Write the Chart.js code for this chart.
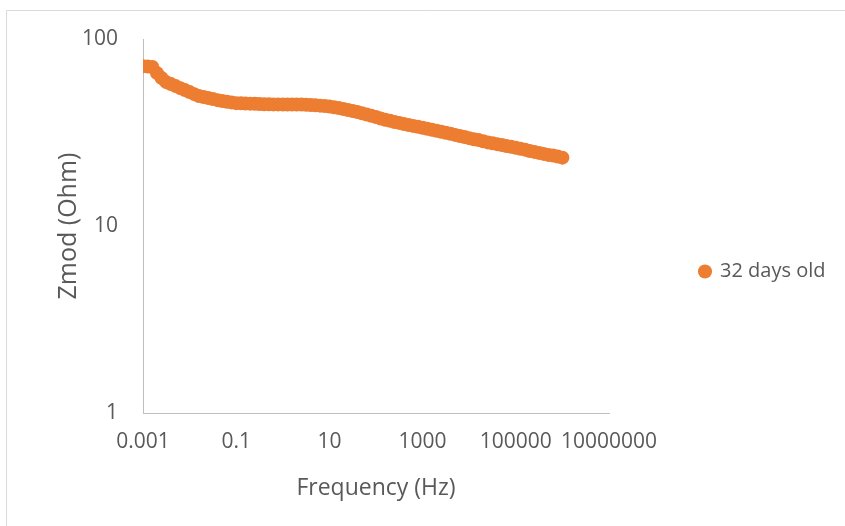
<!DOCTYPE html>
<html>
<head>
<meta charset="utf-8">
<script src="https://cdn.jsdelivr.net/npm/chart.js@4.4.0/dist/chart.umd.min.js"></script>
<style>
  html, body { margin: 0; padding: 0; background: #fff; }
  canvas { display: block; }
</style>
</head>
<body>
<canvas id="zmod-canvas" width="845" height="526"></canvas>
<script>
// frequency sweep, Hz (high to low, 10 points per decade)
let frequency = [
  1000000, 794300, 631000, 501200, 398100, 316200, 251200, 199500, 158500, 125900,
  100000, 79430, 63100, 50120, 39810, 31620, 25120, 19950, 15850, 12590,
  10000, 7943, 6310, 5012, 3981, 3162, 2512, 1995, 1585, 1259,
  1000, 794.3, 631, 501.2, 398.1, 316.2, 251.2, 199.5, 158.5, 125.9,
  100, 79.43, 63.1, 50.12, 39.81, 31.62, 25.12, 19.95, 15.85, 12.59,
  10, 7.943, 6.31, 5.012, 3.981, 3.162, 2.512, 1.995, 1.585, 1.259,
  1, 0.7943, 0.631, 0.5012, 0.3981, 0.3162, 0.2512, 0.1995, 0.1585, 0.1259,
  0.1, 0.07943, 0.0631, 0.05012, 0.03981, 0.03162, 0.02512, 0.01995, 0.01585, 0.01259,
  0.01, 0.007943, 0.00631, 0.005012, 0.003981, 0.003162, 0.002512, 0.001995, 0.001585, 0.001259,
  0.001
];
// Zmod, Ohm
let zmod = [
  23.2, 23.5, 23.8, 24.0, 24.3, 24.6, 24.9, 25.2, 25.6, 25.9,
  26.2, 26.5, 26.8, 27.1, 27.4, 27.7, 28.0, 28.4, 28.8, 29.1,
  29.5, 29.9, 30.3, 30.7, 31.1, 31.5, 31.9, 32.3, 32.7, 33.1,
  33.5, 33.9, 34.3, 34.7, 35.1, 35.6, 36.0, 36.5, 37.0, 37.6,
  38.3, 38.9, 39.5, 40.1, 40.7, 41.2, 41.7, 42.2, 42.7, 43.1,
  43.5, 43.8, 44.0, 44.2, 44.4, 44.5, 44.6, 44.6, 44.6, 44.6,
  44.6, 44.7, 44.7, 44.8, 44.8, 44.9, 45.0, 45.1, 45.2, 45.3,
  45.4, 45.8, 46.2, 46.6, 47.1, 47.7, 48.3, 48.9, 49.5, 50.7,
  52.0, 53.3, 54.6, 56.0, 57.4, 58.8, 61.8, 65.7, 70.8, 71.2,
  71.6
];
let series_label = '32 days old';
let x_ticks = [0.001, 0.1, 10, 1000, 100000, 10000000];
let y_ticks = [1, 10, 100];

let font_family = '"Open Sans", "Liberation Sans", sans-serif';
let text_color  = '#595959';
let axis_color  = '#bfbfbf';
let orange      = '#ed7d31';

// legend sizing: keep plot right edge at 609px
let legend_font = 20;
let legend_box  = 10;
let legend_gap  = 91;
let mctx = document.createElement('canvas').getContext('2d');
mctx.font = legend_font + 'px ' + font_family;
let legend_text_w = mctx.measureText(series_label).width;
let right_pad = 845 - 609 - legend_gap - (legend_box + legend_font / 2 + legend_text_w) - 10;

let points = frequency.map((f, i) => ({x: f, y: zmod[i]}));

let frame = {
  id: 'frame',
  beforeDraw(chart) {
    let c = chart.ctx;
    c.save();
    c.fillStyle = '#fff';
    c.fillRect(0, 0, chart.width, chart.height);
    c.strokeStyle = '#d9d9d9';
    c.lineWidth = 1;
    c.beginPath();
    c.moveTo(6.5, chart.height);
    c.lineTo(6.5, 10.5);
    c.lineTo(chart.width, 10.5);
    c.stroke();
    c.restore();
  }
};

let ctx = document.getElementById('zmod-canvas').getContext('2d');
window.zChart = new Chart(ctx, {
  type: 'scatter',
  data: {
    datasets: [{
      label: series_label,
      data: points,
      backgroundColor: orange,
      borderColor: orange,
      borderWidth: 0,
      pointRadius: 7,
      pointHoverRadius: 7,
      showLine: false
    }]
  },
  plugins: [frame],
  options: {
    responsive: false,
    animation: false,
    devicePixelRatio: 1,
    events: [],
    layout: {
      padding: {left: 0, top: 39, right: right_pad, bottom: 22}
    },
    plugins: {
      tooltip: {enabled: false},
      legend: {
        position: 'right',
        align: 'center',
        maxWidth: 320,
        labels: {
          usePointStyle: true,
          pointStyle: 'circle',
          boxWidth: legend_box,
          boxHeight: legend_box,
          padding: legend_gap,
          color: text_color,
          font: {family: font_family, size: legend_font}
        }
      }
    },
    scales: {
      x: {
        type: 'logarithmic',
        min: 0.001,
        max: 10000000,
        afterBuildTicks(scale) {
          scale.ticks = x_ticks.map(v => ({value: v}));
        },
        afterFit(scale) { scale.height = 91; },
        grid: {display: false, drawTicks: false},
        border: {display: true, color: axis_color, width: 1},
        ticks: {
          color: text_color,
          font: {family: font_family, size: 21},
          padding: 16,
          maxRotation: 0,
          autoSkip: false,
          callback: v => String(v)
        },
        title: {
          display: true,
          text: 'Frequency (Hz)',
          color: text_color,
          font: {family: font_family, size: 23},
          padding: {top: 0, bottom: 2}
        }
      },
      y: {
        type: 'logarithmic',
        min: 1,
        max: 100,
        afterBuildTicks(scale) {
          scale.ticks = y_ticks.map(v => ({value: v}));
        },
        afterFit(scale) { scale.width = 143; },
        grid: {display: false, drawTicks: false},
        border: {display: true, color: axis_color, width: 1},
        ticks: {
          color: text_color,
          font: {family: font_family, size: 21},
          padding: 25,
          autoSkip: false,
          callback: v => String(v)
        },
        title: {
          display: true,
          text: 'Zmod (Ohm)',
          color: text_color,
          font: {family: font_family, size: 25},
          padding: {top: 54, bottom: 0}
        }
      }
    }
  }
});
</script>
</body>
</html>
